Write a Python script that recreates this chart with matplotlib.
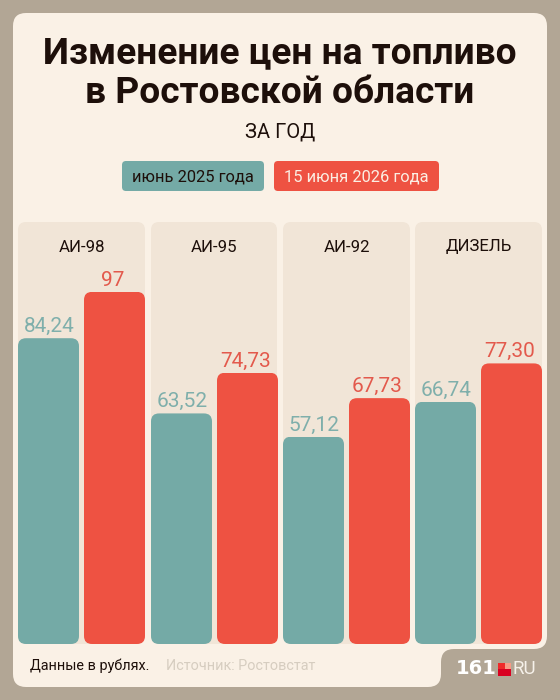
import matplotlib
matplotlib.use("Agg")
import matplotlib.pyplot as plt
import numpy as np
from matplotlib.patches import FancyBboxPatch, PathPatch, Rectangle
from matplotlib.path import Path

categories = ["АИ-98", "АИ-95", "АИ-92", "ДИЗЕЛЬ"]
series_names = ["июнь 2025 года", "15 июня 2026 года"]
values_2025 = [84.24, 63.52, 57.12, 66.74]
values_2026 = [97, 74.73, 67.73, 77.30]
labels_2025 = ["84,24", "63,52", "57,12", "66,74"]
labels_2026 = ["97", "74,73", "67,73", "77,30"]

BG = "#b2a695"; CARD = "#faf1e6"; PANEL = "#f1e5d7"
TEAL = "#74aaa6"; RED = "#ee5242"; DARK = "#1d0f0a"
TEAL_T = "#7fafab"; RED_T = "#e3594c"

plt.rcParams["font.family"] = ["Roboto", "DejaVu Sans"]
W, H = 560, 700
fig = plt.figure(figsize=(W / 100, H / 100), dpi=100, facecolor=BG)

# page layer, in pixels
pg = fig.add_axes([0, 0, 1, 1])
pg.set_xlim(0, W); pg.set_ylim(H, 0); pg.axis("off")

def card_path(l, t, r, b, nx, ny, c):
    M, L, Q, Z = Path.MOVETO, Path.LINETO, Path.CURVE3, Path.CLOSEPOLY
    v = [((l + c, t), M), ((r - c, t), L), ((r, t), Q), ((r, t + c), Q),
         ((r, ny - c), L), ((r, ny), Q), ((r - c, ny), Q),
         ((nx + c, ny), L), ((nx, ny), Q), ((nx, ny + c), Q),
         ((nx, b - c), L), ((nx, b), Q), ((nx - c, b), Q),
         ((l + c, b), L), ((l, b), Q), ((l, b - c), Q),
         ((l, t + c), L), ((l, t), Q), ((l + c, t), Q), ((l + c, t), Z)]
    return Path([p for p, _ in v], [k for _, k in v])

pg.add_patch(PathPatch(card_path(13, 13, 547, 687, 441, 649, 13), fc=CARD, ec="none"))

def rbox(x0, y0, x1, y1, r, color):
    pg.add_patch(FancyBboxPatch((x0, y0), x1 - x0, y1 - y0,
                                boxstyle=f"round,pad=0,rounding_size={r}", fc=color, ec="none"))

panel_left = [18, 151, 283, 415]
panel_right = [145, 277, 410, 542]
for x0, x1, name in zip(panel_left, panel_right, categories):
    rbox(x0, 222, x1, 644, 8, PANEL)
    pg.text((x0 + x1) / 2, 247, name, ha="center", va="center", fontsize=12.1, color=DARK)

pg.text(280, 53, "Изменение цен на топливо", ha="center", va="center",
        fontsize=26.7, fontweight="bold", color=DARK)
pg.text(280, 93, "в Ростовской области", ha="center", va="center",
        fontsize=26.7, fontweight="bold", color=DARK)
pg.text(280, 132, "ЗА ГОД", ha="center", va="center", fontsize=14.5, color=DARK)

rbox(122, 161, 264, 191, 4, TEAL)
rbox(274, 161, 439, 191, 4, RED)
pg.text(193, 176.5, series_names[0], ha="center", va="center", fontsize=11.9, color=DARK)
pg.text(356.5, 176.5, series_names[1], ha="center", va="center", fontsize=11.9, color="#fbeee3")

pg.text(30, 666, "Данные в рублях.", ha="left", va="center", fontsize=10.4, color=DARK)
pg.text(166, 666, "Источник: Ростовстат", ha="left", va="center", fontsize=10.4, color="#d6cdc0")

# logo
pg.text(497, 669, "161", ha="right", va="center", fontsize=14, fontweight="bold",
        color="white", family=["DejaVu Sans"])
pg.add_patch(Rectangle((498, 662.5), 6.5, 6.5, fc="#ee2a2a", ec="none"))
pg.add_patch(Rectangle((504.5, 662.5), 6.5, 6.5, fc="#f79a85", ec="none"))
pg.add_patch(Rectangle((498, 669), 13, 6.5, fc="#d90021", ec="none"))
pg.text(512, 669, "RU", ha="left", va="center", fontsize=13.5, color="#f6f1ea")

# chart layer: 3.63 px per rouble, x in pixels from the first panel
PX_PER_RUB = 3.63
ax = fig.add_axes([18 / W, (H - 644) / H, 524 / W, 422 / H])
ax.patch.set_alpha(0)
ax.set_xlim(0, 524); ax.set_ylim(0, 422 / PX_PER_RUB); ax.axis("off")
ax.set_xmargin(0)

bar_w = 61
x0s = np.array(panel_left) - 18
teal_x = x0s + bar_w / 2
red_x = x0s + 66 + bar_w / 2

def rounded(bars):
    for b in bars:
        clip = FancyBboxPatch((b.get_x(), 0), b.get_width(), b.get_height(),
                              boxstyle="round,pad=0,rounding_size=8",
                              mutation_aspect=1 / PX_PER_RUB, fc="none", ec="none",
                              transform=ax.transData)
        ax.add_patch(clip)
        b.set_clip_path(clip)

rounded(ax.bar(teal_x, values_2025, width=bar_w, color=TEAL))
rounded(ax.bar(red_x, values_2026, width=bar_w, color=RED))

for x, v, s in zip(teal_x, values_2025, labels_2025):
    ax.annotate(s, (x, v), xytext=(0.5, 1.5), textcoords="offset points", ha="center", va="bottom",
                fontsize=15, color=TEAL_T, annotation_clip=False)
for x, v, s in zip(red_x, values_2026, labels_2026):
    ax.annotate(s, (x, v), xytext=(-1.5, 1.5), textcoords="offset points", ha="center", va="bottom",
                fontsize=15, color=RED_T, annotation_clip=False)

fig.savefig("out.png", dpi=100, facecolor=BG)
